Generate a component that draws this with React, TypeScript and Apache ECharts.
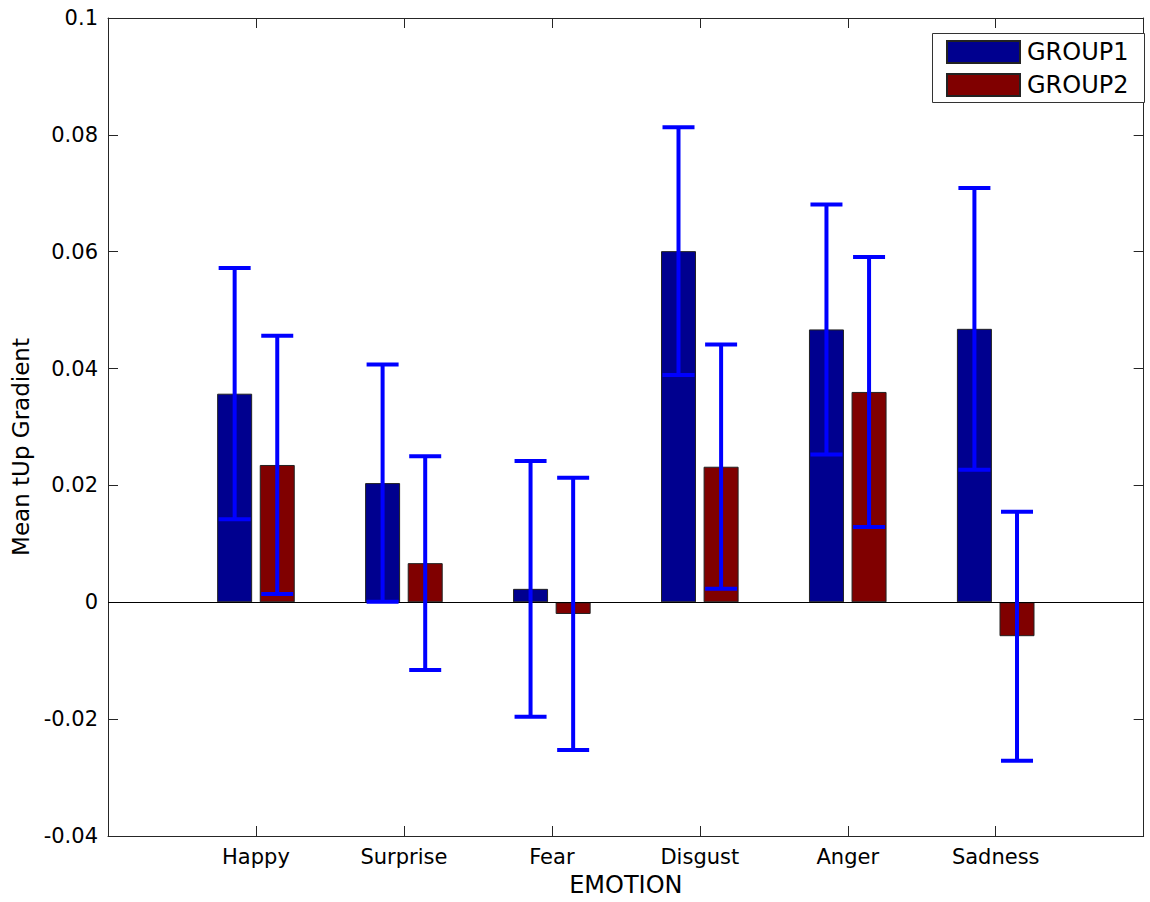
import React, { useEffect, useRef } from "react";
import * as echarts from "echarts";

// ---- data ----
const CATEGORIES = ["Happy", "Surprise", "Fear", "Disgust", "Anger", "Sadness"];
const GROUP1 = [0.0357, 0.0204, 0.0023, 0.0601, 0.0467, 0.0468];
const GROUP2 = [0.0235, 0.0067, -0.002, 0.0232, 0.036, -0.0058];
const ERR1 = [0.0215, 0.0203, 0.0219, 0.0212, 0.0214, 0.0241];
const ERR2 = [0.0221, 0.0183, 0.0233, 0.0209, 0.0231, 0.0213];
const SERIES_NAMES = ["GROUP1", "GROUP2"];
const Y_MIN = -0.04;
const Y_MAX = 0.1;
const Y_STEP = 0.02;

// ---- styling ----
const FONT = "DejaVu Sans";
const BAR_WIDTH = 35;
const BAR_GAP_PX = 7.6;
const CAP_HALF = 16;
const COLORS = ["#00008F", "#800000"];
const AXIS_COLOR = "#262626";

export default function App() {
  const ref = useRef<HTMLDivElement>(null);

  useEffect(() => {
    if (!ref.current) return;
    const chart = echarts.init(ref.current, undefined, { renderer: "svg" });

    const axisCats = ["", ...CATEGORIES, " "];
    const pad = (arr: number[]) => [null, ...arr, null];
    const half = (BAR_WIDTH + BAR_GAP_PX) / 2;

    const errSeries = (vals: number[], errs: number[], offset: number, name: string) => ({
      type: "custom",
      name,
      z: 5,
      silent: true,
      data: vals.map((v, i) => [i + 1, v, errs[i]]),
      renderItem: (params: any, api: any) => {
        const x = api.value(0);
        const v = api.value(1);
        const e = api.value(2);
        const hi = api.coord([x, v + e]);
        const lo = api.coord([x, v - e]);
        const cx = hi[0] + offset;
        const style = { stroke: "#0000FF", lineWidth: 4, lineCap: "butt" };
        return {
          type: "group",
          children: [
            { type: "line", shape: { x1: cx, y1: hi[1], x2: cx, y2: lo[1] }, style },
            { type: "line", shape: { x1: cx - CAP_HALF, y1: hi[1], x2: cx + CAP_HALF, y2: hi[1] }, style },
            { type: "line", shape: { x1: cx - CAP_HALF, y1: lo[1], x2: cx + CAP_HALF, y2: lo[1] }, style },
          ],
        };
      },
    });

    const textStyle = { fontFamily: FONT, fontSize: 21, color: "#000" };
    const tick = { show: true, inside: true, length: 10, lineStyle: { color: AXIS_COLOR } };
    const line = { show: true, onZero: false, lineStyle: { color: AXIS_COLOR, width: 1 } };

    chart.setOption({
      animation: false,
      backgroundColor: "#fff",
      textStyle: { fontFamily: FONT },
      grid: { left: 108, top: 18, right: 2, bottom: 64, containLabel: false },
      graphic: [
        {
          type: "rect",
          left: 932,
          top: 33,
          shape: { width: 212, height: 69 },
          style: { fill: "#fff", stroke: "#333", lineWidth: 1 },
          z: 10,
        },
      ],
      legend: {
        data: SERIES_NAMES,
        orient: "vertical",
        left: 946,
        top: 40,
        itemWidth: 73,
        itemHeight: 22,
        itemGap: 9,
        padding: 0,
        icon: "rect",
        z: 20,
        textStyle: { fontFamily: FONT, fontSize: 24, color: "#000", padding: [0, 0, 0, 2] },
      },
      xAxis: [
        {
          type: "category",
          data: axisCats,
          boundaryGap: false,
          position: "bottom",
          name: "EMOTION",
          nameLocation: "middle",
          nameGap: 37,
          nameTextStyle: { fontFamily: FONT, fontSize: 24, color: "#000" },
          axisLine: line,
          axisTick: tick,
          axisLabel: { ...textStyle, margin: 10, interval: 0 },
          splitLine: { show: false },
        },
        {
          type: "category",
          data: axisCats,
          boundaryGap: false,
          position: "top",
          axisLine: line,
          axisTick: tick,
          axisLabel: { show: false },
          splitLine: { show: false },
        },
      ],
      yAxis: [
        {
          type: "value",
          min: Y_MIN,
          max: Y_MAX,
          interval: Y_STEP,
          position: "left",
          name: "Mean tUp Gradient",
          nameLocation: "middle",
          nameGap: 72,
          nameTextStyle: { fontFamily: FONT, fontSize: 23, color: "#000", padding: [0, 40, 0, 0] },
          axisLine: line,
          axisTick: tick,
          axisLabel: { ...textStyle, margin: 10 },
          splitLine: { show: false },
        },
        {
          type: "value",
          min: Y_MIN,
          max: Y_MAX,
          interval: Y_STEP,
          position: "right",
          axisLine: line,
          axisTick: tick,
          axisLabel: { show: false },
          splitLine: { show: false },
        },
      ],
      series: [
        {
          type: "bar",
          name: SERIES_NAMES[0],
          data: pad(GROUP1),
          barWidth: BAR_WIDTH,
          barGap: `${(BAR_GAP_PX / BAR_WIDTH) * 100}%`,
          itemStyle: { color: COLORS[0], borderColor: "#222", borderWidth: 1 },
          markLine: {
            silent: true,
            symbol: ["none", "none"],
            label: { show: false },
            lineStyle: { color: "#000", width: 1, type: "solid" },
            data: [{ yAxis: 0 }],
          },
        },
        {
          type: "bar",
          name: SERIES_NAMES[1],
          data: pad(GROUP2),
          barWidth: BAR_WIDTH,
          barGap: `${(BAR_GAP_PX / BAR_WIDTH) * 100}%`,
          itemStyle: { color: COLORS[1], borderColor: "#222", borderWidth: 1 },
        },
        errSeries(GROUP1, ERR1, -half, "err1"),
        errSeries(GROUP2, ERR2, half, "err2"),
      ],
    });

    return () => chart.dispose();
  }, []);

  return (
    <div
      ref={ref}
      style={{ position: "fixed", left: 0, top: 0, width: 1150, height: 902 }}
    />
  );
}
